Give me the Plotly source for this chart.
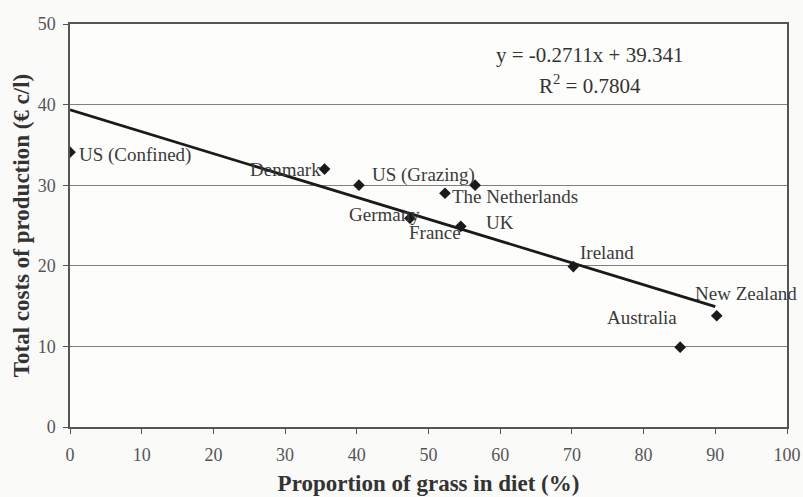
import plotly.graph_objects as go

# Country observations: share of grass in the diet (%) vs total cost of production (euro cent / litre)
countries = ["US (Confined)", "Denmark", "US (Grazing)", "The Netherlands", "Germany",
             "France", "UK", "Ireland", "Australia", "New Zealand"]
grass_pct = [0, 35.5, 40.3, 52.3, 47.4, 54.5, 56.5, 70.2, 85.1, 90.2]
cost_cents = [34.1, 32.0, 30.0, 29.0, 25.9, 24.9, 30.0, 19.9, 9.9, 13.8]

# Linear trend stated on the chart
slope = -0.2711
intercept = 39.341
r_squared = 0.7804
trend_x = [0, 90]

# Label offsets in pixels (dx right, dy up) relative to each marker
label_dx = [65, -39, 65, 70, -25, -26, 25, 34, -38, 29]
label_dy = [-3, 0, 10, -3, 4, -6, -37, 14, 30, 22]

x_ticks = list(range(0, 101, 10))
y_ticks = list(range(0, 51, 10))

serif = "Liberation Serif, Times New Roman, serif"

fig = go.Figure()

fig.add_trace(go.Scatter(
    x=trend_x,
    y=[slope * v + intercept for v in trend_x],
    mode="lines",
    line=dict(color="#1a1a1a", width=2.8),
    hoverinfo="skip",
    showlegend=False,
))

fig.add_trace(go.Scatter(
    x=grass_pct,
    y=cost_cents,
    mode="markers",
    marker=dict(symbol="diamond", size=9, color="#1a1a1a"),
    text=countries,
    showlegend=False,
))

for name, xv, yv, dx, dy in zip(countries, grass_pct, cost_cents, label_dx, label_dy):
    fig.add_annotation(
        x=xv, y=yv, xref="x", yref="y",
        text=name, showarrow=False,
        xshift=dx, yshift=dy,
        xanchor="center", yanchor="middle",
        font=dict(family=serif, size=19, color="#3a3a3a"),
    )

# Regression equation and R² in the upper right
fig.add_annotation(
    x=0.725, y=0.923, xref="paper", yref="paper",
    text=f"y = {slope}x + {intercept}",
    showarrow=False, xanchor="center", yanchor="middle",
    font=dict(family=serif, size=21, color="#333333"),
)
fig.add_annotation(
    x=0.725, y=0.849, xref="paper", yref="paper",
    text=f"R<sup>2</sup> = {r_squared}",
    showarrow=False, xanchor="center", yanchor="middle",
    font=dict(family=serif, size=21, color="#333333"),
)

fig.update_xaxes(
    range=[0, 100],
    tickvals=x_ticks,
    ticks="outside", ticklen=5, tickcolor="#555555",
    showline=True, linecolor="#555555", linewidth=1.5, mirror=True,
    showgrid=False, zeroline=False, automargin=False,
    ticklabelstandoff=6,
    tickfont=dict(family=serif, size=18, color="#555555"),
    title=dict(text="<b>Proportion of grass in diet (%)</b>",
               font=dict(family=serif, size=23, color="#333333"), standoff=11),
)

fig.update_yaxes(
    range=[0, 50],
    tickvals=y_ticks,
    ticks="outside", ticklen=5, tickcolor="#555555",
    showline=True, linecolor="#555555", linewidth=1.5, mirror=True,
    showgrid=True, gridcolor="#808080", gridwidth=1, zeroline=False, automargin=False,
    ticklabelstandoff=4,
    tickfont=dict(family=serif, size=18, color="#555555"),
    title=dict(text="<b>Total costs of production (€ c/l)</b>",
               font=dict(family=serif, size=23, color="#333333"), standoff=2),
)

fig.update_layout(
    width=803, height=497,
    margin=dict(l=70, r=16, t=24, b=70),
    paper_bgcolor="#fafaf9",
    plot_bgcolor="#fdfdfc",
    showlegend=False,
)

fig.write_html("out.html")
